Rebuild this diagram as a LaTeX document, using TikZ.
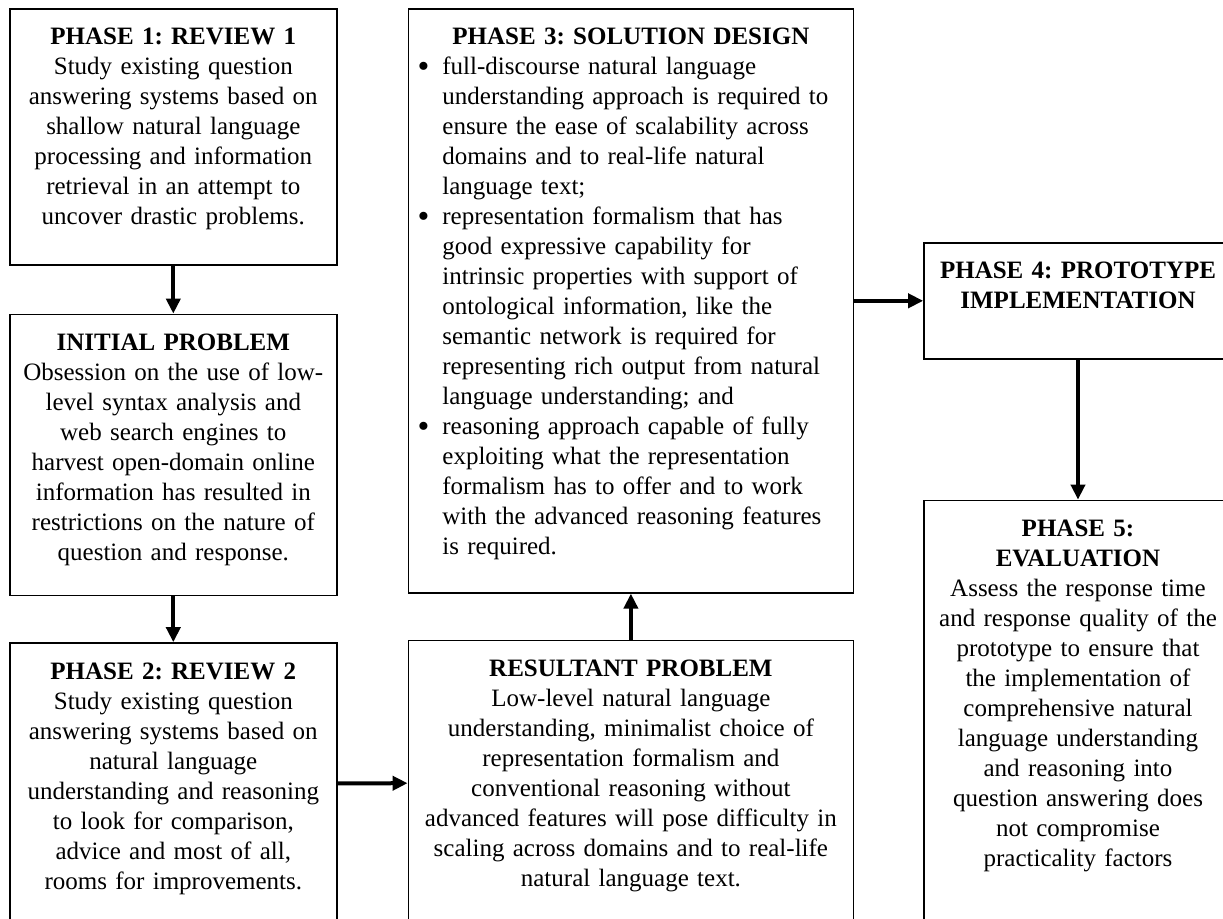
\documentclass[tikz,border=0pt]{standalone}
\usepackage{fontspec}
\setmainfont{Liberation Serif}
\usetikzlibrary{arrows.meta,positioning}

\begin{document}
\begin{tikzpicture}[
  x=0.5pt, y=-0.5pt,
  phase/.style={rectangle, draw, line width=0.8pt, inner xsep=1pt, inner ysep=0pt, text height=18pt, font=\fontsize{12.5}{15}\selectfont\frenchspacing},
  leftbox/.style={phase, align=center, text width=161.5pt},
  midbox/.style={phase, text width=220.5pt},
  rightbox/.style={phase, align=center, text width=152pt},
  arrow/.style={-{Triangle[width=7pt,length=7.5pt]}, line width=2pt}
]
\useasboundingbox (0,0) rectangle (1223,918);

\node[leftbox, text depth=110pt, anchor=north west] (review1) at (9,8) {\textbf{PHASE 1: REVIEW 1}\\Study existing question\\answering systems based on\\shallow natural language\\processing and information\\retrieval in an attempt to\\uncover drastic problems.};
\node[leftbox, text depth=122.5pt, below=24pt of review1] (initial) {\textbf{INITIAL PROBLEM}\\Obsession on the use of low-\\level syntax analysis and\\web search engines to\\harvest open-domain online\\information has resulted in\\restrictions on the nature of\\question and response.};
\node[leftbox, text depth=123pt, below=23pt of initial] (review2) {\textbf{PHASE 2: REVIEW 2}\\Study existing question\\answering systems based on\\natural language\\understanding and reasoning\\to look for comparison,\\advice and most of all,\\rooms for improvements.};

\node[midbox, text depth=274pt, anchor=north west] (design) at ([xshift=35pt]review1.north east) {%
  {\centering\textbf{PHASE 3: SOLUTION DESIGN}\par}
  \raggedright\leftskip=16pt
  \leavevmode\llap{\raisebox{-1.2pt}{\scalebox{1.35}{\textbullet}}\hspace{6.5pt}}full-discourse natural language\\understanding approach is required to\\ensure the ease of scalability across\\domains and to real-life natural\\language text;\par
  \leavevmode\llap{\raisebox{-1.2pt}{\scalebox{1.35}{\textbullet}}\hspace{6.5pt}}representation formalism that has\\good expressive capability for\\intrinsic properties with support of\\ontological information, like the\\semantic network is required for\\representing rich output from natural\\language understanding; and\par
  \leavevmode\llap{\raisebox{-1.2pt}{\scalebox{1.35}{\textbullet}}\hspace{6.5pt}}reasoning approach capable of fully\\exploiting what the representation\\formalism has to offer and to work\\with the advanced reasoning features\\is required.\par};
\node[midbox, align=center, text depth=124pt, below=23pt of design] (result) {\textbf{RESULTANT PROBLEM}\\Low-level natural language\\understanding, minimalist choice of\\representation formalism and\\conventional reasoning without\\advanced features will pose difficulty in\\scaling across domains and to real-life\\natural language text.};

\node[rightbox, text depth=40pt, right=34.5pt of design] (proto) {\textbf{PHASE 4: PROTOTYPE}\\\textbf{IMPLEMENTATION}};
\node[rightbox, text depth=193pt, below=70pt of proto] (eval) {\textbf{PHASE 5:}\\\textbf{EVALUATION}\\Assess the response time\\and response quality of the\\prototype to ensure that\\the implementation of\\comprehensive natural\\language understanding\\and reasoning into\\question answering does\\not compromise\\practicality factors};

\draw[arrow] (review1) -- (initial);
\draw[arrow] (initial) -- (review2);
\draw[arrow] (review2) -- (result);
\draw[arrow] (result) -- (design);
\draw[arrow] (design) -- (proto);
\draw[arrow] (proto) -- (eval);

\end{tikzpicture}
\end{document}
